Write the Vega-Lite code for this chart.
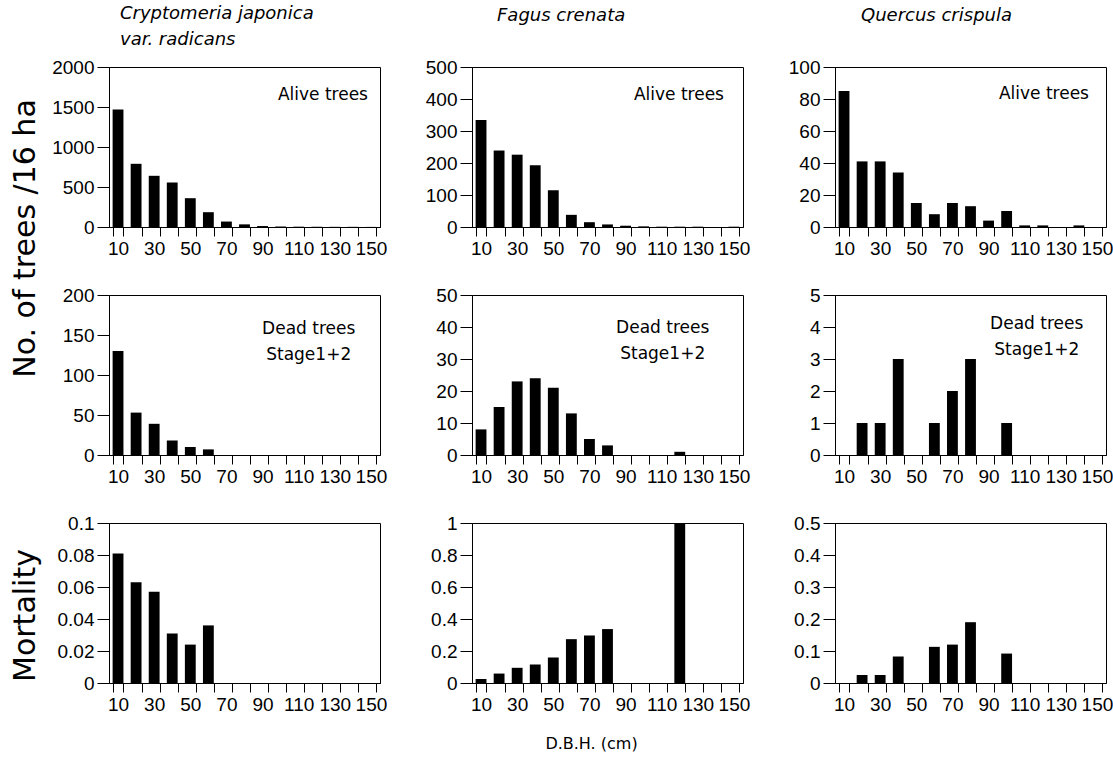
{
  "$schema": "https://vega.github.io/schema/vega-lite/v6.json",
  "padding": {"left": 9, "top": 4, "right": 5, "bottom": 2},
  "datasets": {
    "trees": [
      {"species": "Cj", "measure": "alive", "dbh": 10, "value": 1470},
      {"species": "Cj", "measure": "alive", "dbh": 20, "value": 790},
      {"species": "Cj", "measure": "alive", "dbh": 30, "value": 640},
      {"species": "Cj", "measure": "alive", "dbh": 40, "value": 555},
      {"species": "Cj", "measure": "alive", "dbh": 50, "value": 360},
      {"species": "Cj", "measure": "alive", "dbh": 60, "value": 185},
      {"species": "Cj", "measure": "alive", "dbh": 70, "value": 68},
      {"species": "Cj", "measure": "alive", "dbh": 80, "value": 33},
      {"species": "Cj", "measure": "alive", "dbh": 90, "value": 12},
      {"species": "Cj", "measure": "alive", "dbh": 100, "value": 6},
      {"species": "Cj", "measure": "alive", "dbh": 110, "value": 4},
      {"species": "Cj", "measure": "alive", "dbh": 120, "value": 3},
      {"species": "Cj", "measure": "alive", "dbh": 130, "value": 2},
      {"species": "Cj", "measure": "alive", "dbh": 140, "value": 2},
      {"species": "Cj", "measure": "alive", "dbh": 150, "value": 1},
      {"species": "Fc", "measure": "alive", "dbh": 10, "value": 334},
      {"species": "Fc", "measure": "alive", "dbh": 20, "value": 239},
      {"species": "Fc", "measure": "alive", "dbh": 30, "value": 226},
      {"species": "Fc", "measure": "alive", "dbh": 40, "value": 193},
      {"species": "Fc", "measure": "alive", "dbh": 50, "value": 115},
      {"species": "Fc", "measure": "alive", "dbh": 60, "value": 38},
      {"species": "Fc", "measure": "alive", "dbh": 70, "value": 15},
      {"species": "Fc", "measure": "alive", "dbh": 80, "value": 8},
      {"species": "Fc", "measure": "alive", "dbh": 90, "value": 4},
      {"species": "Fc", "measure": "alive", "dbh": 100, "value": 2},
      {"species": "Fc", "measure": "alive", "dbh": 110, "value": 1},
      {"species": "Fc", "measure": "alive", "dbh": 120, "value": 1},
      {"species": "Fc", "measure": "alive", "dbh": 130, "value": 1},
      {"species": "Fc", "measure": "alive", "dbh": 140, "value": 0},
      {"species": "Fc", "measure": "alive", "dbh": 150, "value": 1},
      {"species": "Qc", "measure": "alive", "dbh": 10, "value": 85},
      {"species": "Qc", "measure": "alive", "dbh": 20, "value": 41},
      {"species": "Qc", "measure": "alive", "dbh": 30, "value": 41},
      {"species": "Qc", "measure": "alive", "dbh": 40, "value": 34},
      {"species": "Qc", "measure": "alive", "dbh": 50, "value": 15},
      {"species": "Qc", "measure": "alive", "dbh": 60, "value": 8},
      {"species": "Qc", "measure": "alive", "dbh": 70, "value": 15},
      {"species": "Qc", "measure": "alive", "dbh": 80, "value": 13},
      {"species": "Qc", "measure": "alive", "dbh": 90, "value": 4},
      {"species": "Qc", "measure": "alive", "dbh": 100, "value": 10},
      {"species": "Qc", "measure": "alive", "dbh": 110, "value": 1},
      {"species": "Qc", "measure": "alive", "dbh": 120, "value": 1},
      {"species": "Qc", "measure": "alive", "dbh": 130, "value": 0},
      {"species": "Qc", "measure": "alive", "dbh": 140, "value": 1},
      {"species": "Qc", "measure": "alive", "dbh": 150, "value": 0},
      {"species": "Cj", "measure": "dead", "dbh": 10, "value": 130},
      {"species": "Cj", "measure": "dead", "dbh": 20, "value": 53},
      {"species": "Cj", "measure": "dead", "dbh": 30, "value": 39},
      {"species": "Cj", "measure": "dead", "dbh": 40, "value": 18},
      {"species": "Cj", "measure": "dead", "dbh": 50, "value": 10},
      {"species": "Cj", "measure": "dead", "dbh": 60, "value": 7},
      {"species": "Fc", "measure": "dead", "dbh": 10, "value": 8},
      {"species": "Fc", "measure": "dead", "dbh": 20, "value": 15},
      {"species": "Fc", "measure": "dead", "dbh": 30, "value": 23},
      {"species": "Fc", "measure": "dead", "dbh": 40, "value": 24},
      {"species": "Fc", "measure": "dead", "dbh": 50, "value": 21},
      {"species": "Fc", "measure": "dead", "dbh": 60, "value": 13},
      {"species": "Fc", "measure": "dead", "dbh": 70, "value": 5},
      {"species": "Fc", "measure": "dead", "dbh": 80, "value": 3},
      {"species": "Fc", "measure": "dead", "dbh": 120, "value": 1},
      {"species": "Qc", "measure": "dead", "dbh": 20, "value": 1},
      {"species": "Qc", "measure": "dead", "dbh": 30, "value": 1},
      {"species": "Qc", "measure": "dead", "dbh": 40, "value": 3},
      {"species": "Qc", "measure": "dead", "dbh": 60, "value": 1},
      {"species": "Qc", "measure": "dead", "dbh": 70, "value": 2},
      {"species": "Qc", "measure": "dead", "dbh": 80, "value": 3},
      {"species": "Qc", "measure": "dead", "dbh": 100, "value": 1},
      {"species": "Cj", "measure": "mortality", "dbh": 10, "value": 0.081},
      {"species": "Cj", "measure": "mortality", "dbh": 20, "value": 0.063},
      {"species": "Cj", "measure": "mortality", "dbh": 30, "value": 0.057},
      {"species": "Cj", "measure": "mortality", "dbh": 40, "value": 0.031},
      {"species": "Cj", "measure": "mortality", "dbh": 50, "value": 0.024},
      {"species": "Cj", "measure": "mortality", "dbh": 60, "value": 0.036},
      {"species": "Fc", "measure": "mortality", "dbh": 10, "value": 0.025},
      {"species": "Fc", "measure": "mortality", "dbh": 20, "value": 0.059},
      {"species": "Fc", "measure": "mortality", "dbh": 30, "value": 0.095},
      {"species": "Fc", "measure": "mortality", "dbh": 40, "value": 0.116},
      {"species": "Fc", "measure": "mortality", "dbh": 50, "value": 0.16},
      {"species": "Fc", "measure": "mortality", "dbh": 60, "value": 0.274},
      {"species": "Fc", "measure": "mortality", "dbh": 70, "value": 0.297},
      {"species": "Fc", "measure": "mortality", "dbh": 80, "value": 0.337},
      {"species": "Fc", "measure": "mortality", "dbh": 120, "value": 1.0},
      {"species": "Qc", "measure": "mortality", "dbh": 20, "value": 0.025},
      {"species": "Qc", "measure": "mortality", "dbh": 30, "value": 0.025},
      {"species": "Qc", "measure": "mortality", "dbh": 40, "value": 0.083},
      {"species": "Qc", "measure": "mortality", "dbh": 60, "value": 0.113},
      {"species": "Qc", "measure": "mortality", "dbh": 70, "value": 0.12},
      {"species": "Qc", "measure": "mortality", "dbh": 80, "value": 0.19},
      {"species": "Qc", "measure": "mortality", "dbh": 100, "value": 0.092}
    ]
  },
  "data": {"name": "trees"},
  "columns": 3,
  "spacing": {"row": 68, "column": 92},
  "bounds": "flush",
  "align": "all",
  "concat": [
    {
      "width": 271, "height": 160,
      "title": {"text": "Cryptomeria japonica", "subtitle": "var. radicans", "dx": 11, "offset": 9, "subtitlePadding": 8},
      "layer": [
        {
          "transform": [{"filter": "datum.species == 'Cj' && datum.measure == 'alive'"}],
          "mark": {"type": "bar", "color": "black"},
          "encoding": {
            "x": {"field": "dbh", "type": "ordinal", "scale": {"domain": [10,20,30,40,50,60,70,80,90,100,110,120,130,140,150], "paddingInner": 0.4, "paddingOuter": 0.2}, "axis": {"title": null, "tickBand": "extent", "labelAngle": 0, "labelOverlap": false, "labelExpr": "datum.value % 20 == 10 ? datum.label : ''"}},
            "y": {"field": "value", "type": "quantitative", "scale": {"domain": [0, 2000], "nice": false}, "axis": {"values": [0,500,1000,1500,2000], "format": "~r", "labelOverlap": false, "title": "No. of trees /16 ha", "titleX": -84, "titleY": 171, "titleBaseline": "middle", "titleAlign": "center"}}
          }
        },
        {
          "data": {"values": [{}]},
          "mark": {"type": "text", "align": "right", "baseline": "middle", "dx": -3},
          "encoding": {"x": {"datum": 150, "type": "ordinal"}, "y": {"datum": 1650, "type": "quantitative", "axis": {"values": [0,500,1000,1500,2000], "format": "~r", "labelOverlap": false, "title": "No. of trees /16 ha", "titleX": -84, "titleY": 171, "titleBaseline": "middle", "titleAlign": "center"}}, "text": {"value": "Alive trees"}}
        }
      ]
    },
    {
      "width": 271, "height": 160,
      "title": {"text": "Fagus crenata", "dx": 25, "offset": 33},
      "layer": [
        {
          "transform": [{"filter": "datum.species == 'Fc' && datum.measure == 'alive'"}],
          "mark": {"type": "bar", "color": "black"},
          "encoding": {
            "x": {"field": "dbh", "type": "ordinal", "scale": {"domain": [10,20,30,40,50,60,70,80,90,100,110,120,130,140,150], "paddingInner": 0.4, "paddingOuter": 0.2}, "axis": {"title": null, "tickBand": "extent", "labelAngle": 0, "labelOverlap": false, "labelExpr": "datum.value % 20 == 10 ? datum.label : ''"}},
            "y": {"field": "value", "type": "quantitative", "scale": {"domain": [0, 500], "nice": false}, "axis": {"values": [0,100,200,300,400,500], "format": "~r", "labelOverlap": false, "title": null}}
          }
        },
        {
          "data": {"values": [{}]},
          "mark": {"type": "text", "align": "right", "baseline": "middle", "dx": -10},
          "encoding": {"x": {"datum": 150, "type": "ordinal"}, "y": {"datum": 414, "type": "quantitative", "axis": {"values": [0,100,200,300,400,500], "format": "~r", "labelOverlap": false, "title": null}}, "text": {"value": "Alive trees"}}
        }
      ]
    },
    {
      "width": 271, "height": 160,
      "title": {"text": "Quercus crispula", "dx": 26, "offset": 33},
      "layer": [
        {
          "transform": [{"filter": "datum.species == 'Qc' && datum.measure == 'alive'"}],
          "mark": {"type": "bar", "color": "black"},
          "encoding": {
            "x": {"field": "dbh", "type": "ordinal", "scale": {"domain": [10,20,30,40,50,60,70,80,90,100,110,120,130,140,150], "paddingInner": 0.4, "paddingOuter": 0.2}, "axis": {"title": null, "tickBand": "extent", "labelAngle": 0, "labelOverlap": false, "labelExpr": "datum.value % 20 == 10 ? datum.label : ''"}},
            "y": {"field": "value", "type": "quantitative", "scale": {"domain": [0, 100], "nice": false}, "axis": {"values": [0,20,40,60,80,100], "format": "~r", "labelOverlap": false, "title": null}}
          }
        },
        {
          "data": {"values": [{}]},
          "mark": {"type": "text", "align": "right", "baseline": "middle", "dx": -8},
          "encoding": {"x": {"datum": 150, "type": "ordinal"}, "y": {"datum": 83, "type": "quantitative", "axis": {"values": [0,20,40,60,80,100], "format": "~r", "labelOverlap": false, "title": null}}, "text": {"value": "Alive trees"}}
        }
      ]
    },
    {
      "width": 271, "height": 160,
      "layer": [
        {
          "transform": [{"filter": "datum.species == 'Cj' && datum.measure == 'dead'"}],
          "mark": {"type": "bar", "color": "black"},
          "encoding": {
            "x": {"field": "dbh", "type": "ordinal", "scale": {"domain": [10,20,30,40,50,60,70,80,90,100,110,120,130,140,150], "paddingInner": 0.4, "paddingOuter": 0.2}, "axis": {"title": null, "tickBand": "extent", "labelAngle": 0, "labelOverlap": false, "labelExpr": "datum.value % 20 == 10 ? datum.label : ''"}},
            "y": {"field": "value", "type": "quantitative", "scale": {"domain": [0, 200], "nice": false}, "axis": {"values": [0,50,100,150,200], "format": "~r", "labelOverlap": false, "title": null}}
          }
        },
        {
          "data": {"values": [{}]},
          "mark": {"type": "text", "align": "center", "baseline": "middle", "dx": 10, "lineHeight": 26},
          "encoding": {"x": {"datum": 110, "type": "ordinal"}, "y": {"datum": 158, "type": "quantitative", "axis": {"values": [0,50,100,150,200], "format": "~r", "labelOverlap": false, "title": null}}, "text": {"value": ["Dead trees", "Stage1+2"]}}
        }
      ]
    },
    {
      "width": 271, "height": 160,
      "layer": [
        {
          "transform": [{"filter": "datum.species == 'Fc' && datum.measure == 'dead'"}],
          "mark": {"type": "bar", "color": "black"},
          "encoding": {
            "x": {"field": "dbh", "type": "ordinal", "scale": {"domain": [10,20,30,40,50,60,70,80,90,100,110,120,130,140,150], "paddingInner": 0.4, "paddingOuter": 0.2}, "axis": {"title": null, "tickBand": "extent", "labelAngle": 0, "labelOverlap": false, "labelExpr": "datum.value % 20 == 10 ? datum.label : ''"}},
            "y": {"field": "value", "type": "quantitative", "scale": {"domain": [0, 50], "nice": false}, "axis": {"values": [0,10,20,30,40,50], "format": "~r", "labelOverlap": false, "title": null}}
          }
        },
        {
          "data": {"values": [{}]},
          "mark": {"type": "text", "align": "center", "baseline": "middle", "dx": 1, "lineHeight": 26},
          "encoding": {"x": {"datum": 110, "type": "ordinal"}, "y": {"datum": 39.6, "type": "quantitative", "axis": {"values": [0,10,20,30,40,50], "format": "~r", "labelOverlap": false, "title": null}}, "text": {"value": ["Dead trees", "Stage1+2"]}}
        }
      ]
    },
    {
      "width": 271, "height": 160,
      "layer": [
        {
          "transform": [{"filter": "datum.species == 'Qc' && datum.measure == 'dead'"}],
          "mark": {"type": "bar", "color": "black"},
          "encoding": {
            "x": {"field": "dbh", "type": "ordinal", "scale": {"domain": [10,20,30,40,50,60,70,80,90,100,110,120,130,140,150], "paddingInner": 0.4, "paddingOuter": 0.2}, "axis": {"title": null, "tickBand": "extent", "labelAngle": 0, "labelOverlap": false, "labelExpr": "datum.value % 20 == 10 ? datum.label : ''"}},
            "y": {"field": "value", "type": "quantitative", "scale": {"domain": [0, 5], "nice": false}, "axis": {"values": [0,1,2,3,4,5], "format": "~r", "labelOverlap": false, "title": null}}
          }
        },
        {
          "data": {"values": [{}]},
          "mark": {"type": "text", "align": "center", "baseline": "middle", "dx": 12, "lineHeight": 26},
          "encoding": {"x": {"datum": 110, "type": "ordinal"}, "y": {"datum": 4.09, "type": "quantitative", "axis": {"values": [0,1,2,3,4,5], "format": "~r", "labelOverlap": false, "title": null}}, "text": {"value": ["Dead trees", "Stage1+2"]}}
        }
      ]
    },
    {
      "width": 271, "height": 160,
      "layer": [
        {
          "transform": [{"filter": "datum.species == 'Cj' && datum.measure == 'mortality'"}],
          "mark": {"type": "bar", "color": "black"},
          "encoding": {
            "x": {"field": "dbh", "type": "ordinal", "scale": {"domain": [10,20,30,40,50,60,70,80,90,100,110,120,130,140,150], "paddingInner": 0.4, "paddingOuter": 0.2}, "axis": {"title": null, "tickBand": "extent", "labelAngle": 0, "labelOverlap": false, "labelExpr": "datum.value % 20 == 10 ? datum.label : ''"}},
            "y": {"field": "value", "type": "quantitative", "scale": {"domain": [0, 0.1], "nice": false}, "axis": {"values": [0,0.02,0.04,0.06,0.08,0.1], "format": "~r", "labelOverlap": false, "title": "Mortality", "titleX": -84, "titleY": 92, "titleBaseline": "middle", "titleAlign": "center"}}
          }
        }
      ]
    },
    {
      "width": 271, "height": 160,
      "layer": [
        {
          "transform": [{"filter": "datum.species == 'Fc' && datum.measure == 'mortality'"}],
          "mark": {"type": "bar", "color": "black"},
          "encoding": {
            "x": {"field": "dbh", "type": "ordinal", "scale": {"domain": [10,20,30,40,50,60,70,80,90,100,110,120,130,140,150], "paddingInner": 0.4, "paddingOuter": 0.2}, "axis": {"title": "D.B.H. (cm)", "titleFont": "DejaVu Sans", "titleFontSize": 16, "titleX": 119, "titleY": 60, "titleBaseline": "middle", "tickBand": "extent", "labelAngle": 0, "labelOverlap": false, "labelExpr": "datum.value % 20 == 10 ? datum.label : ''"}},
            "y": {"field": "value", "type": "quantitative", "scale": {"domain": [0, 1], "nice": false}, "axis": {"values": [0,0.2,0.4,0.6,0.8,1], "format": "~r", "labelOverlap": false, "title": null}}
          }
        }
      ]
    },
    {
      "width": 271, "height": 160,
      "layer": [
        {
          "transform": [{"filter": "datum.species == 'Qc' && datum.measure == 'mortality'"}],
          "mark": {"type": "bar", "color": "black"},
          "encoding": {
            "x": {"field": "dbh", "type": "ordinal", "scale": {"domain": [10,20,30,40,50,60,70,80,90,100,110,120,130,140,150], "paddingInner": 0.4, "paddingOuter": 0.2}, "axis": {"title": null, "tickBand": "extent", "labelAngle": 0, "labelOverlap": false, "labelExpr": "datum.value % 20 == 10 ? datum.label : ''"}},
            "y": {"field": "value", "type": "quantitative", "scale": {"domain": [0, 0.5], "nice": false}, "axis": {"values": [0,0.1,0.2,0.3,0.4,0.5], "format": "~r", "labelOverlap": false, "title": null}}
          }
        }
      ]
    }
  ],
  "config": {
    "background": "white",
    "view": {"stroke": "black", "strokeWidth": 1},
    "axis": {"domainColor": "black", "domainWidth": 1, "tickColor": "black", "tickWidth": 1, "labelColor": "black", "labelFont": "'Liberation Sans Narrow', 'Liberation Sans', sans-serif", "labelFontSize": 19, "titleColor": "black", "titleFont": "DejaVu Sans", "titleFontSize": 30, "titleFontWeight": "normal", "grid": false},
    "axisY": {"tickSize": 12, "labelPadding": 3, "labelOverlap": false},
    "axisX": {"tickSize": 9, "labelPadding": 3},
    "title": {"font": "DejaVu Sans", "fontSize": 18, "fontStyle": "italic", "fontWeight": "normal", "color": "black", "anchor": "start", "frame": "group", "subtitleFont": "DejaVu Sans", "subtitleFontSize": 18, "subtitleFontStyle": "italic", "subtitleColor": "black"},
    "text": {"font": "DejaVu Sans", "fontSize": 17, "color": "black"}
  }
}
